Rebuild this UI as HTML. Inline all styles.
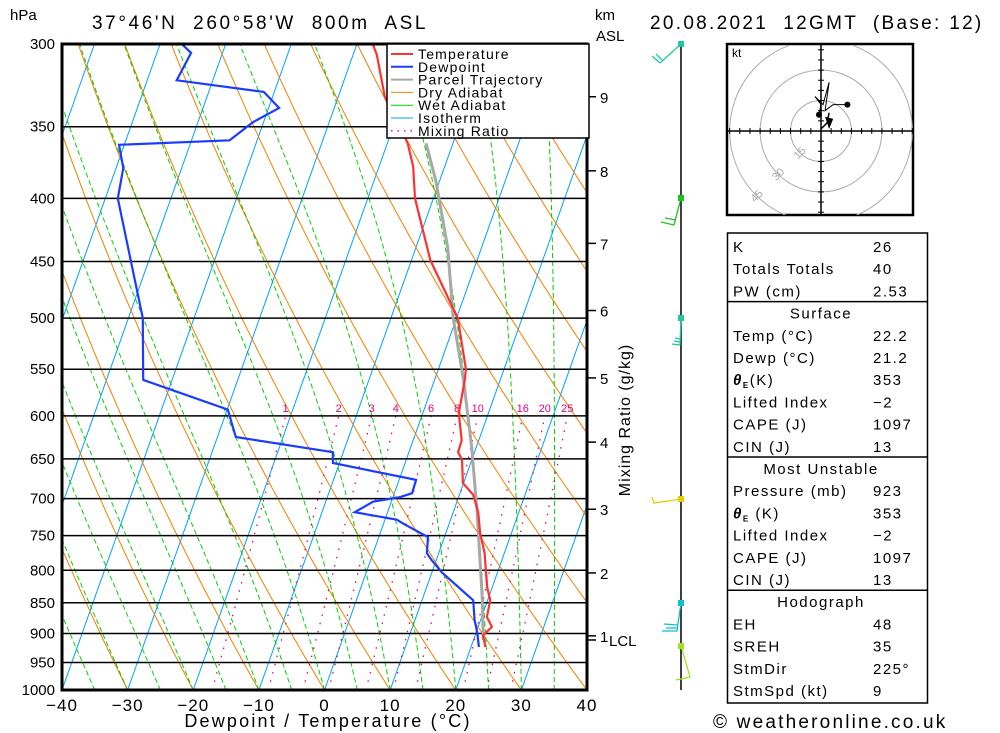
<!DOCTYPE html>
<html><head><meta charset="utf-8"><style>
html,body{margin:0;padding:0;background:#fff;}
svg{display:block;font-family:"Liberation Sans",sans-serif;}
</style></head><body>
<svg id="chart" width="1000" height="733" viewBox="0 0 1000 733" xmlns="http://www.w3.org/2000/svg">
<defs><clipPath id="plotclip"><rect x="62" y="44" width="525" height="646"/></clipPath>
<clipPath id="hodoclip"><rect x="728" y="45" width="185" height="170"/></clipPath></defs>
<rect width="1000" height="733" fill="#fff"/>
<g id="bg" clip-path="url(#plotclip)"></g>
<g id="traces" clip-path="url(#plotclip)"></g>
<g id="axes"></g>
<text x="10" y="20" font-size="15">hPa</text>
<text x="92" y="29" font-size="19" letter-spacing="2.6" xml:space="preserve">37°46'N  260°58'W  800m  ASL</text>
<text x="595" y="20" font-size="15">km</text>
<text x="596" y="41" font-size="15">ASL</text>
<text x="650" y="29" font-size="19" letter-spacing="2.3" xml:space="preserve">20.08.2021  12GMT  (Base: 12)</text>
<text x="328" y="727" font-size="18" letter-spacing="2.2" text-anchor="middle">Dewpoint / Temperature (°C)</text>
<text x="630" y="420" font-size="16" letter-spacing="1" text-anchor="middle" transform="rotate(-90 630 420)">Mixing Ratio (g/kg)</text>
<text x="713" y="728" font-size="19" letter-spacing="2.2">© weatheronline.co.uk</text>
<g id="legend">
<rect x="387" y="44" width="202" height="94" fill="#fff" stroke="#000" stroke-width="1.5"/>
</g>
<g id="wind"></g>
<g id="hodo"></g>
<g id="table"></g>
</svg>
<script>
// ---- data ----
const tempP = [923,903,889,873,846,825,775,746,718,695,680,651,642,628,597,561,550,500,449,400,377,361,331,306,300];
const tempT = [22.2,21.2,22.1,20.8,20.4,19.2,17.0,15.2,13.8,12.1,9.9,8.5,7.5,7.4,5.5,4.6,4.2,0.2,-7.1,-12.8,-14.8,-16.9,-22.9,-26.4,-27.6];
const dewP = [923,899,878,846,835,803,785,775,752,733,728,718,704,698,693,676,655,642,624,593,561,500,400,378,362,359,347,338,328,321,305,300];
const dewT = [21.2,20.2,19.1,17.8,16.2,11.5,9.3,8.2,7.5,2.9,1.8,-5.0,-2.8,1.1,2.7,2.6,-11.0,-11.6,-27.2,-29.9,-44.4,-47.8,-58.1,-58.9,-60.8,-44.2,-41.6,-38.4,-41.6,-55.5,-54.8,-56.7];
const parcelP = [911,841,719,636,561,500,439,387,361];
const parcelT = [21.5,19.0,13.7,9.3,4.4,-0.5,-5.1,-10.6,-14.1];
const pressureTicks = [300,350,400,450,500,550,600,650,700,750,800,850,900,950,1000];
const tempTicks = [-40,-30,-20,-10,0,10,20,30,40];
const mixRatios = [1,2,3,4,6,8,10,16,20,25];
const kmTicks = [9,8,7,6,5,4,3,2,1];
const kmPress = [331,380,435,493,559,630,714,804,904];
const lclP = 911;
const hodoU = [-1,0,-3,1,4,2,6,13];
const hodoV = [8,13,17,13,24,10,13,13];
const hodoU2 = [0,5,3,4];
const hodoV2 = [1,6,4,9];

const NS="http://www.w3.org/2000/svg";
function el(tag,attrs,parent){const e=document.createElementNS(NS,tag);for(const k in attrs)e.setAttribute(k,attrs[k]);parent.appendChild(e);return e;}
const LN=Math.log(1000/300);
function yP(p){return 44+Math.log(p/300)/LN*646;}
function xT(T,p){return 62+(T+40)*6.5625+(690-yP(p))*0.355;}
function pathFrom(ps,ts){return ps.map((p,i)=>(i?'L':'M')+xT(ts[i],p).toFixed(1)+' '+yP(p).toFixed(1)).join(' ');}
const bg=document.getElementById('bg'),tr=document.getElementById('traces'),ax=document.getElementById('axes');

for(let T=-120;T<=40;T+=10){
  const l=el('line',{x1:xT(T,1000),y1:yP(1000),x2:xT(T,300),y2:yP(300),stroke:'#00a0ff','stroke-width':1},bg);
  
  
}
for(let Tc=-40;Tc<=130;Tc+=10){
  const th=Tc+273.15;const ps=[],ts=[];
  for(let p=1000;p>=300;p-=10){ps.push(p);ts.push(th*Math.pow(p/1000,0.286)-273.15);}
  const l=el('path',{d:pathFrom(ps,ts),fill:'none',stroke:'#f08000','stroke-width':1},bg);
  
  
}
function es(T){return 6.112*Math.exp(17.67*T/(T+243.5));}
for(let Tw=-40;Tw<=35;Tw+=5){
  let T=Tw+273.15;const ps=[],ts=[];
  for(let p=1000;p>=300;p-=2){
    ps.push(p);ts.push(T-273.15);
    const e=es(T-273.15);const rs=0.622*e/(p-e);
    const dTdp=(287*T+2.5e6*rs)/(p*(1004+2.5e6*2.5e6*rs*0.622/(287*T*T)));
    T-=dTdp*2;
  }
  const l=el('path',{d:pathFrom(ps,ts),fill:'none',stroke:'#00d000','stroke-width':1,'stroke-dasharray':'5,3'},bg);
  
  
}
function tdFor(w,p){const e=w*p/(622+w);const a=Math.log(e/6.112);return 243.5*a/(17.67-a)+2.3*(1000-p)/400;}
mixRatios.forEach(w=>{
  const ps=[],ts=[];for(let p=1000;p>=600;p-=10){ps.push(p);ts.push(tdFor(w,p));}
  const l=el('path',{d:pathFrom(ps,ts),fill:'none',stroke:'#e0007a','stroke-width':1.3,'stroke-dasharray':'1.5,7'},bg);
  
  
  const t=el('text',{x:xT(tdFor(w,600),600),y:yP(600)-4,'font-size':11,fill:'#e0007a','text-anchor':'middle'},bg);
  t.textContent=w;
  
  
});
pressureTicks.forEach(p=>{
  const l=el('line',{x1:62,x2:587,y1:yP(p),y2:yP(p),stroke:'#000','stroke-width':1.5},bg);
  
  
  const t=el('text',{x:55,y:yP(p)+5,'font-size':15,'text-anchor':'end'},ax);
  t.textContent=p;
  
  
});
const parcel=el('path',{d:pathFrom(parcelP,parcelT),fill:'none',stroke:'#a8a8a8','stroke-width':3},tr);


const temp=el('path',{d:pathFrom(tempP,tempT),fill:'none',stroke:'#ff3030','stroke-width':2.2},tr);


const dew=el('path',{d:pathFrom(dewP,dewT),fill:'none',stroke:'#1a3cff','stroke-width':2.2},tr);


const fr=el('rect',{x:62,y:44,width:525,height:646,fill:'none',stroke:'#000','stroke-width':3},ax);


tempTicks.forEach(T=>{
  const t=el('text',{x:xT(T,1000),y:711,'font-size':17,'text-anchor':'middle','letter-spacing':1},ax);
  t.textContent=T<0?'\u2212'+(-T):T;
  
  
});
kmTicks.forEach((k,i)=>{
  const y=yP(kmPress[i]);
  const l=el('line',{x1:587,x2:596,y1:y,y2:y,stroke:'#000','stroke-width':1.5},ax);
  
  
  const t=el('text',{x:600,y:y+6,'font-size':15},ax);
  t.textContent=k;
  
  
});
{const y=yP(lclP);
const l=el('line',{x1:587,x2:596,y1:y,y2:y,stroke:'#000','stroke-width':1.5},ax);


const t=el('text',{x:609,y:y+6,'font-size':15},ax);t.textContent='LCL';

}
const lg=document.getElementById('legend');
const legItems=[['Temperature','#ff3030',2,null],['Dewpoint','#1a3cff',2,null],['Parcel Trajectory','#a8a8a8',2,null],['Dry Adiabat','#f08000',1,null],['Wet Adiabat','#00d000',1,null],['Isotherm','#00a0ff',1,null],['Mixing Ratio','#e0007a',1.3,'1.5,5']];
legItems.forEach((it,i)=>{
  const y=54+i*12.8;
  const l=el('line',{x1:391,x2:413,y1:y,y2:y,stroke:it[1],'stroke-width':it[2]},lg);
  if(it[3])l.setAttribute('stroke-dasharray',it[3]);
  
  
  const t=el('text',{x:418,y:y+5,'font-size':14,'letter-spacing':1.2},lg);t.textContent=it[0];
  
  
});
const wd=document.getElementById('wind');
const wl=el('line',{x1:681,x2:681,y1:44,y2:690,stroke:'#000','stroke-width':1.5},wd);


const barbs=[[44,'#20c8a0','M681 44 L660 63 M660 63 L652 56 M662 60 L656 54'],[198,'#20c020','M681 198 L674 225 L661 222 M676 220 L665 218'],[318,'#20c8a0','M681 318 L680 345 M680 345 L672 344 M680 342 L674 341 M680 339 L675 338'],[499,'#e0d000','M681 499 L654 503 L652 497'],[603,'#10c0d0','M681 603 L677 631 L662 631 M678 625 L664 624 M678 628 L666 628'],[646,'#a0e020','M681 646 L690 677 L676 680']];
barbs.forEach(b=>{
  const p=el('path',{d:b[2],fill:'none',stroke:b[1],'stroke-width':1.3},wd);
  
  
  const c=el('rect',{x:678,y:b[0]-3,width:6,height:6,fill:b[1]},wd);
  
  
});
const hd=document.getElementById('hodo');
const cx=821,cy=131,sc=2.03;
const hb=el('rect',{x:727,y:44,width:186,height:171,fill:'#fff',stroke:'#000','stroke-width':2.5},hd);


const hg=el('g',{'clip-path':'url(#hodoclip)'},hd);
[15,30,45].forEach(r=>{
  const c=el('circle',{cx:cx,cy:cy,r:r*sc,fill:'none',stroke:'#aaa','stroke-width':1},hg);
  
  
  const a=Math.PI*0.75;
  const t=el('text',{x:cx+Math.cos(a)*r*sc,y:cy+Math.sin(a)*r*sc+4,'font-size':11,fill:'#aaa','text-anchor':'middle',transform:`rotate(-45 ${cx+Math.cos(a)*r*sc} ${cy+Math.sin(a)*r*sc})`},hg);
  t.textContent=r;
  
  
});
el('line',{x1:727,x2:913,y1:cy,y2:cy,stroke:'#000','stroke-width':1.5},hg);
el('line',{x1:cx,x2:cx,y1:44,y2:215,stroke:'#000','stroke-width':1.5},hg);
for(let k=-45;k<=45;k+=5){if(!k)continue;
  el('line',{x1:cx+k*sc,x2:cx+k*sc,y1:cy-3,y2:cy+3,stroke:'#000'},hg);
  el('line',{x1:cx-3,x2:cx+3,y1:cy+k*sc,y2:cy+k*sc,stroke:'#000'},hg);}
const hp=el('path',{d:hodoU.map((u,i)=>(i?'L':'M')+(cx+u*sc)+' '+(cy-hodoV[i]*sc)).join(' '),fill:'none',stroke:'#000','stroke-width':1},hg);


const hp2=el('path',{d:hodoU2.map((u,i)=>(i?'L':'M')+(cx+u*sc)+' '+(cy-hodoV2[i]*sc)).join(' '),fill:'none',stroke:'#000','stroke-width':1.5},hg);


el('circle',{cx:cx+hodoU[0]*sc,cy:cy-hodoV[0]*sc,r:3,fill:'#000'},hg);
el('circle',{cx:cx+hodoU[hodoU.length-1]*sc,cy:cy-hodoV[hodoV.length-1]*sc,r:3,fill:'#000'},hg);
el('polygon',{points:`${cx+4*sc},${cy-2} ${cx+2*sc},${cy-7*sc} ${cx+6*sc},${cy-6*sc}`,fill:'#000'},hg);
const kt=el('text',{x:732,y:57,'font-size':12},hd);kt.textContent='kt';


const tb=document.getElementById('table');
const rows=[['K','26'],['Totals Totals','40'],['PW (cm)','2.53'],['#Surface'],['Temp (°C)','22.2'],['Dewp (°C)','21.2'],['θE(K)','353'],['Lifted Index','\u22122'],['CAPE (J)','1097'],['CIN (J)','13'],['#Most Unstable'],['Pressure (mb)','923'],['θE (K)','353'],['Lifted Index','\u22122'],['CAPE (J)','1097'],['CIN (J)','13'],['#Hodograph'],['EH','48'],['SREH','35'],['StmDir','225°'],['StmSpd (kt)','9']];
const tf=el('rect',{x:727.5,y:233,width:200,height:470,fill:'none',stroke:'#000','stroke-width':1.5},tb);


rows.forEach((r,i)=>{
  const y=252+i*22.2;
  if(r[0][0]==='#'){
    const d=el('line',{x1:727,x2:928,y1:y-17,y2:y-17,stroke:'#000','stroke-width':1.5},tb);
    
    
    const t=el('text',{x:821,y:y,'font-size':15,'text-anchor':'middle','letter-spacing':1.5},tb);t.textContent=r[0].slice(1);
    
    
    return;}
  const t=el('text',{x:733,y:y,'font-size':15,'letter-spacing':1.5},tb);
  if(r[0].startsWith('θE')){t.innerHTML='<tspan font-weight="bold" font-style="italic">θ</tspan><tspan font-size="8" dy="3" font-weight="bold">E</tspan><tspan dy="-3">'+r[0].slice(2)+'</tspan>';}
  else t.textContent=r[0];
  
  
  const v=el('text',{x:873,y:y,'font-size':15,'letter-spacing':1.5},tb);v.textContent=r[1];
  
  
});
</script>
</body></html>
